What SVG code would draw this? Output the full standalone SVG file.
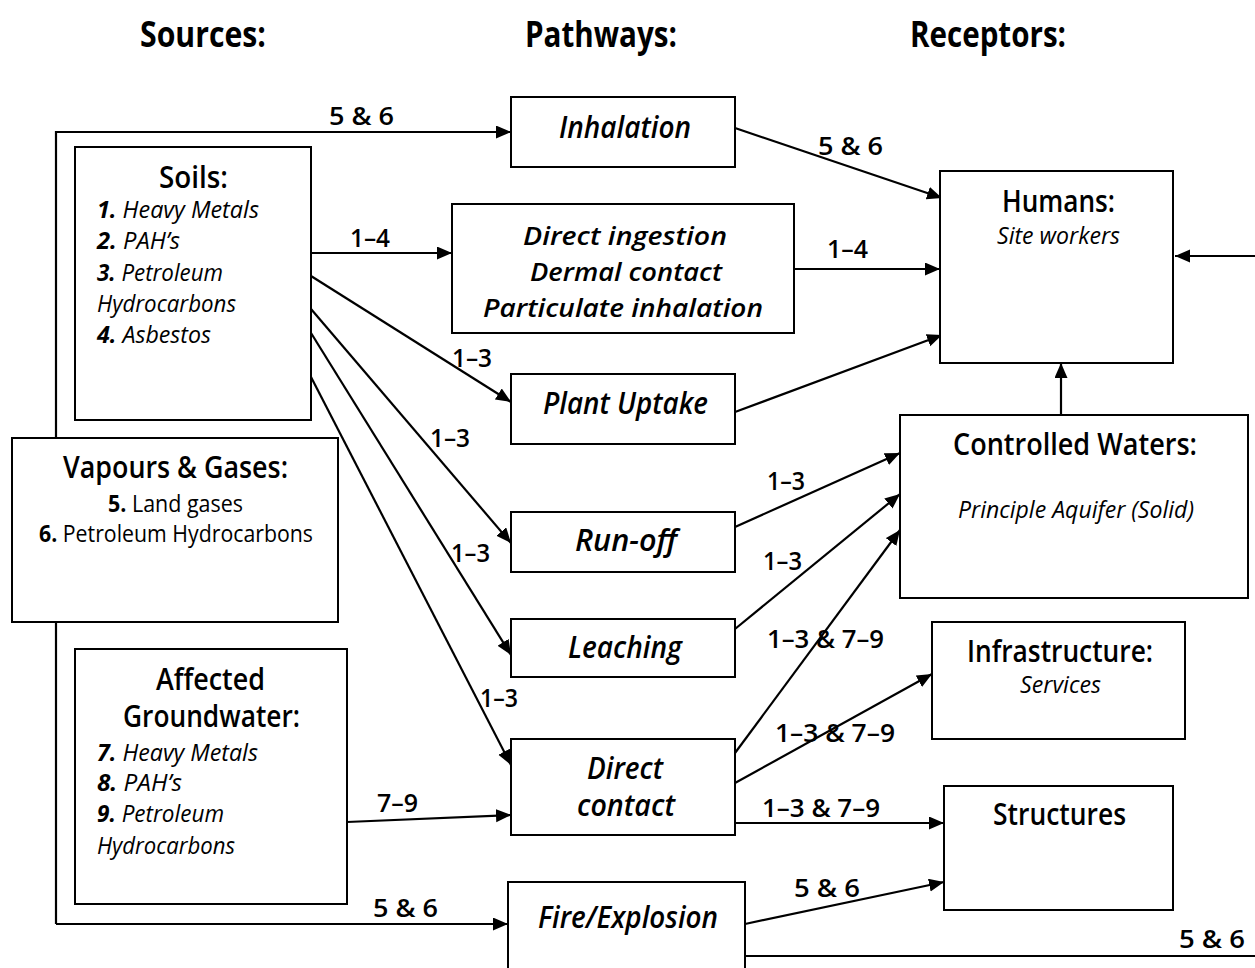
<svg xmlns="http://www.w3.org/2000/svg" width="1255" height="968" viewBox="0 0 1255 968">
<style>
.box{fill:#fff;stroke:#000;stroke-width:2}
.ln{stroke:#000;stroke-width:2.2;fill:none}
.ar{marker-end:url(#ah)}
text{font-family:"Open Sans","Liberation Sans",sans-serif;fill:#000}
.hdr{font-size:35px;font-weight:bold}
.ttl{font-size:30px;font-weight:600}
.bd{font-size:23px}
.it{font-style:italic}
.pw{font-size:30px;font-style:italic;font-weight:600}
.pw2{font-size:26px;font-style:italic;font-weight:600}
.lbl{font-size:25px;font-weight:600}
.b{font-weight:bold}
</style>
<defs>
<marker id="ah" markerUnits="userSpaceOnUse" markerWidth="16" markerHeight="14" refX="15" refY="6.5" orient="auto">
<path d="M0,0 L15,6.5 L0,13 z" fill="#000"/>
</marker>
</defs>
<rect width="1255" height="968" fill="#fff"/>

<g id="headers">
<text class="hdr" x="140" y="47" textLength="126" lengthAdjust="spacingAndGlyphs">Sources:</text>
<text class="hdr" x="525" y="47" textLength="152" lengthAdjust="spacingAndGlyphs">Pathways:</text>
<text class="hdr" x="910" y="47" textLength="156" lengthAdjust="spacingAndGlyphs">Receptors:</text>
</g>

<g id="connectors">
<polyline class="ln ar" points="56,924 56,132 511,132"/>
<line class="ln ar" x1="56" y1="924" x2="508" y2="924"/>
<line class="ln ar" x1="311" y1="253" x2="452" y2="253"/>
<line class="ln ar" x1="311" y1="276" x2="511" y2="402"/>
<line class="ln ar" x1="311" y1="309" x2="511" y2="543"/>
<line class="ln ar" x1="311" y1="333" x2="511" y2="655"/>
<line class="ln ar" x1="311" y1="377" x2="511" y2="765"/>
<line class="ln ar" x1="347" y1="822" x2="511" y2="815"/>
<line class="ln ar" x1="735" y1="128" x2="942" y2="198"/>
<line class="ln ar" x1="794" y1="269" x2="940" y2="269"/>
<line class="ln ar" x1="735" y1="412" x2="942" y2="335"/>
<line class="ln ar" x1="1255" y1="256" x2="1175" y2="256"/>
<line class="ln ar" x1="1061" y1="415" x2="1061" y2="363"/>
<line class="ln ar" x1="735" y1="527" x2="900" y2="453"/>
<line class="ln ar" x1="735" y1="629" x2="900" y2="494"/>
<line class="ln ar" x1="735" y1="753" x2="900" y2="530"/>
<line class="ln ar" x1="735" y1="783" x2="932" y2="674"/>
<line class="ln ar" x1="735" y1="823" x2="944" y2="823"/>
<line class="ln ar" x1="745" y1="924" x2="944" y2="882"/>
<line class="ln" x1="745" y1="956" x2="1255" y2="956"/>
<g id="connector-labels">
<text class="lbl" x="329" y="125" textLength="65" lengthAdjust="spacingAndGlyphs">5 &amp; 6</text>
<text class="lbl" x="818" y="155" textLength="65" lengthAdjust="spacingAndGlyphs">5 &amp; 6</text>
<text class="lbl" x="350" y="247" textLength="40" lengthAdjust="spacingAndGlyphs">1–4</text>
<text class="lbl" x="827" y="258" textLength="41" lengthAdjust="spacingAndGlyphs">1–4</text>
<text class="lbl" x="452" y="367" textLength="40" lengthAdjust="spacingAndGlyphs">1–3</text>
<text class="lbl" x="430" y="447" textLength="40" lengthAdjust="spacingAndGlyphs">1–3</text>
<text class="lbl" x="451" y="562" textLength="39" lengthAdjust="spacingAndGlyphs">1–3</text>
<text class="lbl" x="480" y="707" textLength="38" lengthAdjust="spacingAndGlyphs">1–3</text>
<text class="lbl" x="377" y="812" textLength="41" lengthAdjust="spacingAndGlyphs">7–9</text>
<text class="lbl" x="373" y="917" textLength="65" lengthAdjust="spacingAndGlyphs">5 &amp; 6</text>
<text class="lbl" x="767" y="490" textLength="38" lengthAdjust="spacingAndGlyphs">1–3</text>
<text class="lbl" x="763" y="570" textLength="39" lengthAdjust="spacingAndGlyphs">1–3</text>
<text class="lbl" x="767" y="648" textLength="117" lengthAdjust="spacingAndGlyphs">1–3 &amp; 7–9</text>
<text class="lbl" x="775" y="742" textLength="120" lengthAdjust="spacingAndGlyphs">1–3 &amp; 7–9</text>
<text class="lbl" x="762" y="817" textLength="118" lengthAdjust="spacingAndGlyphs">1–3 &amp; 7–9</text>
<text class="lbl" x="794" y="897" textLength="66" lengthAdjust="spacingAndGlyphs">5 &amp; 6</text>
<text class="lbl" x="1179" y="948" textLength="66" lengthAdjust="spacingAndGlyphs">5 &amp; 6</text>
</g>
</g>

<g id="soils">
<rect class="box" x="75" y="147" width="236" height="273"/>
<text class="ttl" x="159" y="188" textLength="69" lengthAdjust="spacingAndGlyphs">Soils:</text>
<text class="bd it" x="97" y="218" textLength="162" lengthAdjust="spacingAndGlyphs"><tspan class="b">1.</tspan> Heavy Metals</text>
<text class="bd it" x="97" y="249" textLength="83" lengthAdjust="spacingAndGlyphs"><tspan class="b">2.</tspan> PAH’s</text>
<text class="bd it" x="97" y="281" textLength="126" lengthAdjust="spacingAndGlyphs"><tspan class="b">3.</tspan> Petroleum</text>
<text class="bd it" x="97" y="312" textLength="139" lengthAdjust="spacingAndGlyphs">Hydrocarbons</text>
<text class="bd it" x="97" y="343" textLength="114" lengthAdjust="spacingAndGlyphs"><tspan class="b">4.</tspan> Asbestos</text>
</g>

<g id="vapours">
<rect class="box" x="12" y="438" width="326" height="184"/>
<text class="ttl" x="63" y="478" textLength="225" lengthAdjust="spacingAndGlyphs">Vapours &amp; Gases:</text>
<text class="bd" x="108" y="512" textLength="135" lengthAdjust="spacingAndGlyphs"><tspan class="b">5.</tspan> Land gases</text>
<text class="bd" x="39" y="542" textLength="274" lengthAdjust="spacingAndGlyphs"><tspan class="b">6.</tspan> Petroleum Hydrocarbons</text>
</g>

<g id="groundwater">
<rect class="box" x="75" y="649" width="272" height="255"/>
<text class="ttl" x="156" y="690" textLength="109" lengthAdjust="spacingAndGlyphs">Affected</text>
<text class="ttl" x="123" y="727" textLength="177" lengthAdjust="spacingAndGlyphs">Groundwater:</text>
<text class="bd it" x="97" y="761" textLength="161" lengthAdjust="spacingAndGlyphs"><tspan class="b">7.</tspan> Heavy Metals</text>
<text class="bd it" x="97" y="791" textLength="85" lengthAdjust="spacingAndGlyphs"><tspan class="b">8.</tspan> PAH’s</text>
<text class="bd it" x="97" y="822" textLength="127" lengthAdjust="spacingAndGlyphs"><tspan class="b">9.</tspan> Petroleum</text>
<text class="bd it" x="97" y="854" textLength="138" lengthAdjust="spacingAndGlyphs">Hydrocarbons</text>
</g>

<g id="inhalation">
<rect class="box" x="511" y="97" width="224" height="70"/>
<text class="pw" x="559" y="138" textLength="132" lengthAdjust="spacingAndGlyphs">Inhalation</text>
</g>

<g id="direct-ingestion">
<rect class="box" x="452" y="204" width="342" height="129"/>
<text class="pw2" x="523" y="245" textLength="204" lengthAdjust="spacingAndGlyphs">Direct ingestion</text>
<text class="pw2" x="530" y="281" textLength="192" lengthAdjust="spacingAndGlyphs">Dermal contact</text>
<text class="pw2" x="483" y="317" textLength="280" lengthAdjust="spacingAndGlyphs">Particulate inhalation</text>
</g>

<g id="plant-uptake">
<rect class="box" x="511" y="374" width="224" height="70"/>
<text class="pw" x="543" y="414" textLength="165" lengthAdjust="spacingAndGlyphs">Plant Uptake</text>
</g>

<g id="run-off">
<rect class="box" x="511" y="512" width="224" height="60"/>
<text class="pw" x="575" y="551" textLength="102" lengthAdjust="spacingAndGlyphs">Run-off</text>
</g>

<g id="leaching">
<rect class="box" x="511" y="619" width="224" height="58"/>
<text class="pw" x="568" y="658" textLength="114" lengthAdjust="spacingAndGlyphs">Leaching</text>
</g>

<g id="direct-contact">
<rect class="box" x="511" y="739" width="224" height="96"/>
<text class="pw" x="587" y="779" textLength="76" lengthAdjust="spacingAndGlyphs">Direct</text>
<text class="pw" x="577" y="816" textLength="98" lengthAdjust="spacingAndGlyphs">contact</text>
</g>

<g id="fire-explosion">
<rect class="box" x="508" y="882" width="237" height="100"/>
<text class="pw" x="538" y="928" textLength="180" lengthAdjust="spacingAndGlyphs">Fire/Explosion</text>
</g>

<g id="humans">
<rect class="box" x="940" y="171" width="233" height="192"/>
<text class="ttl" x="1002" y="212" textLength="113" lengthAdjust="spacingAndGlyphs">Humans:</text>
<text class="bd it" x="997" y="244" textLength="123" lengthAdjust="spacingAndGlyphs">Site workers</text>
</g>

<g id="controlled-waters">
<rect class="box" x="900" y="415" width="348" height="183"/>
<text class="ttl" x="953" y="455" textLength="244" lengthAdjust="spacingAndGlyphs">Controlled Waters:</text>
<text class="bd it" x="958" y="518" textLength="236" lengthAdjust="spacingAndGlyphs">Principle Aquifer (Solid)</text>
</g>

<g id="infrastructure">
<rect class="box" x="932" y="622" width="253" height="117"/>
<text class="ttl" x="967" y="662" textLength="186" lengthAdjust="spacingAndGlyphs">Infrastructure:</text>
<text class="bd it" x="1020" y="693" textLength="81" lengthAdjust="spacingAndGlyphs">Services</text>
</g>

<g id="structures">
<rect class="box" x="944" y="786" width="229" height="124"/>
<text class="ttl" x="993" y="825" textLength="133" lengthAdjust="spacingAndGlyphs">Structures</text>
</g>
</svg>
